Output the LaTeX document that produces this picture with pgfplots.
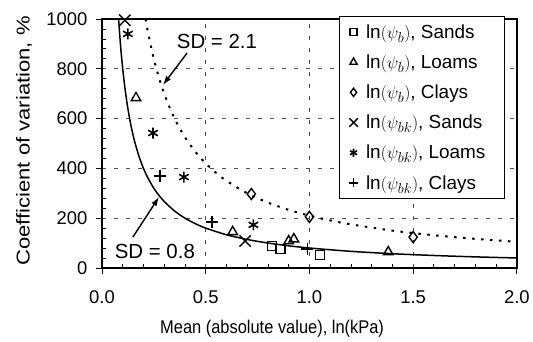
\documentclass[border=0pt]{standalone}
\usepackage{pgfplots}
\pgfplotsset{compat=1.18}
\usepackage{fontspec}
\setmainfont{Liberation Sans}
\usetikzlibrary{arrows.meta}

\pgfplotstableread{
x y
0.82 88
0.86 76
1.05 52
}\sandsb
\pgfplotstableread{
x y
0.164 683
0.63 145
0.90 108
0.925 116
1.38 64
}\loamsb
\pgfplotstableread{
x y
0.72 297
1.00 205
1.50 124
}\claysb
\pgfplotstableread{
x y
0.11 995
0.69 108
}\sandsbk
\pgfplotstableread{
x y
0.125 940
0.246 542
0.395 365
0.73 173
}\loamsbk
\pgfplotstableread{
x y
0.28 370
0.53 185
0.99 76
}\claysbk

\newcommand{\lent}[1]{\makebox[127bp][l]{#1}}

\begin{document}
\begin{tikzpicture}
\begin{axis}[
  scale only axis, width=415bp, height=249bp,
  xmin=0, xmax=2, ymin=0, ymax=1000,
  xtick={0,0.5,1,1.5,2}, xticklabels={0.0,0.5,1.0,1.5,2.0},
  ytick={0,200,400,600,800,1000}, yticklabels={0,200,400,600,800,1000},
  minor x tick num=4, minor y tick num=4,
  tick pos=left,
  tick align=outside,
  major tick length=6bp, minor tick length=-4bp,
  tick style={black, line width=0.8bp},
  axis line style={black, line width=1.5bp},
  grid=major,
  major grid style={black!70, line width=0.7bp, dash pattern=on 4bp off 8bp},
  ticklabel style={font=\fontsize{18.5}{20}\selectfont},
  xticklabel style={yshift=-13bp},
  yticklabel style={xshift=-5bp},
  xlabel={\scalebox{1}[1.12]{Mean (absolute value), ln(kPa)}},
  xlabel style={font=\fontsize{16.5}{19}\selectfont, at={(axis description cs:0.41,0)}, anchor=base, yshift=-66bp},
  ylabel={\scalebox{1.3}[1.1]{Coefficient of variation, \%}},
  ylabel style={font=\fontsize{17}{19}\selectfont, at={(axis description cs:-0.188,0.51)}, anchor=center},
  clip mode=individual,
  legend style={at={(axis description cs:0.971,1.012)}, anchor=north east,
    draw=black, line width=0.7bp, fill=white,
    font=\fontsize{19}{21}\selectfont, row sep=11bp, column sep=6bp,
    cells={anchor=west}, inner xsep=9.5bp, inner ysep=6bp},
  legend cell align=left,
  legend image post style={/tikz/every mark/.append style={scale=0.75}},
]
\addplot[black, line width=1.5bp, smooth, forget plot] coordinates {
(0.08,1000) (0.09,888.9) (0.10,800) (0.11,727.3) (0.12,666.7) (0.13,615.4)
(0.14,571.4) (0.15,533.3) (0.16,500) (0.18,444.4) (0.20,400) (0.22,363.6)
(0.25,320) (0.28,285.7) (0.30,266.7) (0.35,228.6) (0.40,200) (0.45,177.8)
(0.50,160) (0.60,133.3) (0.70,114.3) (0.80,100) (0.90,88.9) (1.00,80)
(1.20,66.7) (1.40,57.1) (1.60,50) (1.80,44.4) (2.00,40)};
\addplot[black, line width=2bp, dash pattern=on 2.5bp off 6.5bp, smooth, forget plot] coordinates {
(0.21,1000) (0.22,954.5) (0.24,875) (0.26,807.7) (0.28,750) (0.30,700)
(0.33,636.4) (0.36,583.3) (0.40,525) (0.45,466.7) (0.50,420) (0.55,381.8)
(0.60,350) (0.70,300) (0.80,262.5) (0.90,233.3) (1.00,210) (1.10,190.9)
(1.20,175) (1.40,150) (1.60,131.3) (1.80,116.7) (2.00,105)};

\addplot[black, only marks, mark=square, mark size=4.5bp, mark options={solid, line width=1.4bp}] table {\sandsb};
\addlegendentry{\lent{$\ln(\psi_b)$, Sands}}
\addplot[black, only marks, mark=triangle, mark size=5.5bp, mark options={solid, line width=1.4bp}] table {\loamsb};
\addlegendentry{\lent{$\ln(\psi_b)$, Loams}}
\addplot[black, only marks, mark=diamond, mark size=5.5bp, mark options={solid, line width=1.4bp}] table {\claysb};
\addlegendentry{\lent{$\ln(\psi_b)$, Clays}}
\addplot[black, only marks, mark=x, mark size=8bp, mark options={solid, line width=1.4bp}] table {\sandsbk};
\addlegendentry{\lent{$\ln(\psi_{bk})$, Sands}}
\addplot[black, only marks, mark=asterisk, mark size=5.5bp, mark options={solid, line width=1.6bp}] table {\loamsbk};
\addlegendentry{\lent{$\ln(\psi_{bk})$, Loams}}
\addplot[black, only marks, mark=+, mark size=6bp, mark options={solid, line width=1.4bp}] table {\claysbk};
\addlegendentry{\lent{$\ln(\psi_{bk})$, Clays}}

\node[font=\fontsize{20.5}{23}\selectfont] at (axis cs:0.554,910) {SD = 2.1};
\draw[black, line width=1.4bp, -{Latex[length=9bp,width=6bp]}] (axis cs:0.41,863) -- (axis cs:0.294,735);
\node[font=\fontsize{20.5}{23}\selectfont] at (axis cs:0.255,68) {SD = 0.8};
\draw[black, line width=1.4bp, -{Latex[length=9bp,width=6bp]}] (axis cs:0.149,124) -- (axis cs:0.275,285);
\end{axis}
\path ([shift={(-102bp,-73bp)}]current axis.south west) rectangle ([shift={(16bp,19bp)}]current axis.north east);
\end{tikzpicture}
\end{document}
